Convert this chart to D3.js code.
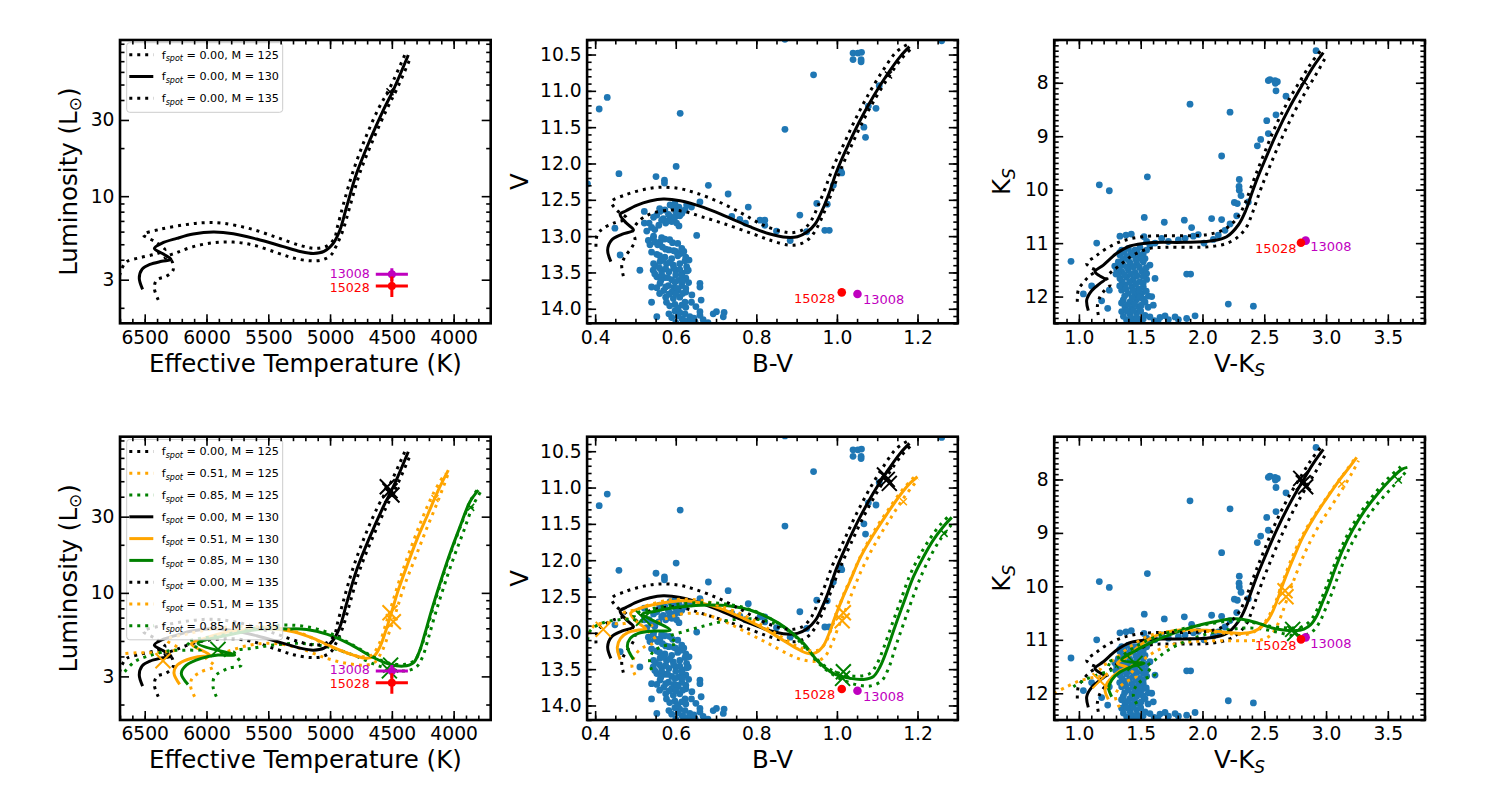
<!DOCTYPE html>
<html>
<head>
<meta charset="utf-8" />
<script src="https://cdn.jsdelivr.net/npm/d3@7"></script>
<style>
  body { margin: 0; background: #fff; }
  text { font-family: "DejaVu Sans", sans-serif; }
</style>
</head>
<body>
<svg id="fig" width="1500" height="800"></svg>
<script>
// ---- tick labels ----
var tempTicks = [6500, 6000, 5500, 5000, 4500, 4000];
var lumTicks = [3, 10, 30];
var bvTicks = [0.4, 0.6, 0.8, 1.0, 1.2];
var vTicks = [10.5, 11.0, 11.5, 12.0, 12.5, 13.0, 13.5, 14.0];
var vkTicks = [1.0, 1.5, 2.0, 2.5, 3.0, 3.5];
var kTicks = [8, 9, 10, 11, 12];

// ---- models: spot fraction x mass ----
var spotFracs = {F00: "0.00", F51: "0.51", F85: "0.85"};
var legendTop = ["F00M125", "F00M130", "F00M135"];
var legendBottom = ["F00M125", "F51M125", "F85M125", "F00M130", "F51M130", "F85M130", "F00M135", "F51M135", "F85M135"];

// ---- HR diagram tracks [Teff, L] ----
var hrF00M130 = [[6517,2.61],[6544,3.06],[6522,3.48],[6457,3.74],[6363,3.91],[6287,4.02],[6349,4.34],[6422,4.71],[6363,5.07],[6241,5.44],[6107,5.79],[5945,5.96],[5783,5.82],[5594,5.39],[5378,4.83],[5243,4.51],[5135,4.38],[5049,4.51],[4974,5.07],[4920,6.14],[4866,8.59],[4785,13.9],[4677,22.5],[4569,34.6],[4488,46.2],[4367,76.5]];
var hrF00M135 = [[6720,2.85],[6684,3.53],[6646,3.89],[6538,4.12],[6417,4.34],[6336,4.60],[6417,5.19],[6511,5.74],[6376,6.20],[6187,6.60],[6026,6.82],[5864,6.76],[5648,6.26],[5432,5.52],[5243,4.92],[5122,4.71],[5027,4.87],[4965,5.44],[4940,6.44],[4890,9.02],[4815,14.2],[4715,23.0],[4607,35.5],[4518,47.3],[4392,77.6]];
var hrF00M125 = [[6390,2.24],[6422,2.65],[6403,2.99],[6322,3.16],[6270,3.45],[6282,3.94],[6336,4.12],[6241,4.43],[6107,4.83],[5945,5.11],[5783,5.16],[5621,4.94],[5432,4.43],[5297,4.10],[5162,3.94],[5068,3.98],[4995,4.26],[4947,4.94],[4895,6.14],[4840,8.59],[4760,13.9],[4652,22.5],[4544,34.6],[4463,46.2],[4345,74.7]];
var hrF51M130 = [[6217,2.67],[6263,3.13],[6244,3.48],[6177,3.76],[6069,3.98],[5974,4.08],[6123,4.78],[6015,5.19],[5826,5.71],[5648,5.90],[5459,5.93],[5297,5.71],[5135,5.19],[4974,4.56],[4812,4.08],[4704,3.89],[4644,4.02],[4596,4.60],[4547,5.85],[4501,7.62],[4448,10.4],[4380,14.6],[4299,21.4],[4205,31.5],[4124,44.0],[4043,58.7]];
var hrF51M125 = [[6096,2.24],[6128,2.58],[6117,2.91],[6042,3.21],[5934,3.48],[6000,3.90],[5837,4.28],[5648,4.71],[5459,4.83],[5243,4.49],[5027,3.89],[4866,3.62],[4731,3.53],[4644,3.65],[4582,4.28],[4520,5.71],[4466,7.62],[4402,10.9],[4313,16.4],[4218,25.3],[4124,38.1],[4043,56.0]];
var hrF51M135 = [[6720,4.12],[6565,4.22],[6444,4.22],[6322,4.28],[6228,4.49],[6322,5.07],[6160,5.52],[5972,5.90],[5783,6.14],[5567,6.14],[5378,5.96],[5216,5.52],[5054,4.83],[4893,4.28],[4744,3.98],[4663,4.08],[4601,4.83],[4547,6.44],[4493,8.80],[4434,12.3],[4353,18.5],[4259,28.6],[4164,42.0],[4070,56.0]];
var hrF85M130 = [[6150,2.67],[6204,3.13],[6163,3.53],[6042,3.89],[5907,4.08],[5772,4.08],[6069,4.83],[5826,5.44],[5583,5.90],[5351,5.95],[5189,5.90],[5027,5.52],[4839,4.78],[4650,3.94],[4515,3.57],[4407,3.48],[4326,3.65],[4278,4.28],[4232,5.58],[4178,7.80],[4110,11.5],[4029,17.7],[3948,26.0],[3868,37.2],[3800,44.0]];
var hrF85M125 = [[5920,2.24],[5947,2.58],[5934,2.99],[5826,3.37],[5718,3.53],[5772,4.28],[5637,4.49],[5459,4.71],[5243,4.83],[5027,4.60],[4812,4.08],[4623,3.53],[4488,3.29],[4380,3.25],[4299,3.45],[4251,3.98],[4205,5.19],[4151,7.26],[4083,10.7],[4002,16.4],[3921,24.1],[3841,35.5],[3781,43.0]];
var hrF85M135 = [[6662,3.21],[6581,3.71],[6473,4.02],[6298,4.34],[6160,4.38],[6042,4.42],[6160,4.90],[5837,5.50],[5621,5.99],[5378,6.29],[5189,6.14],[5001,5.58],[4839,4.83],[4650,3.98],[4515,3.62],[4393,3.57],[4313,3.80],[4267,4.49],[4218,5.85],[4164,8.19],[4097,12.0],[4016,18.5],[3935,27.2],[3854,39.0],[3800,45.1]];

// ---- B-V, V tracks ----
var bvF00M130 = [[0.439,13.352],[0.431,13.191],[0.441,13.054],[0.466,12.976],[0.495,12.916],[0.478,12.824],[0.462,12.700],[0.477,12.650],[0.503,12.576],[0.536,12.517],[0.569,12.489],[0.611,12.512],[0.669,12.604],[0.726,12.732],[0.784,12.870],[0.834,12.971],[0.875,13.017],[0.902,13.008],[0.925,12.948],[0.946,12.833],[0.962,12.663],[0.979,12.434],[0.999,12.113],[1.024,11.791],[1.057,11.411],[1.090,11.080],[1.124,10.782],[1.157,10.529],[1.180,10.392]];
var bvF00M135 = [[0.402,13.145],[0.405,12.985],[0.420,12.893],[0.449,12.815],[0.478,12.755],[0.453,12.641],[0.441,12.526],[0.474,12.434],[0.515,12.365],[0.557,12.328],[0.606,12.342],[0.648,12.402],[0.706,12.526],[0.764,12.686],[0.813,12.838],[0.859,12.930],[0.888,12.953],[0.917,12.907],[0.937,12.778],[0.954,12.572],[0.971,12.342],[0.991,12.044],[1.018,11.723],[1.049,11.356],[1.082,11.011],[1.115,10.713],[1.148,10.461],[1.177,10.355]];
var bvF00M125 = [[0.470,13.549],[0.466,13.398],[0.474,13.283],[0.491,13.155],[0.499,13.044],[0.493,12.939],[0.507,12.801],[0.536,12.696],[0.590,12.641],[0.623,12.663],[0.664,12.732],[0.722,12.833],[0.788,12.962],[0.838,13.063],[0.880,13.122],[0.908,13.109],[0.932,13.031],[0.951,12.879],[0.968,12.677],[0.985,12.434],[1.006,12.126],[1.033,11.791],[1.064,11.424],[1.097,11.089],[1.130,10.796],[1.161,10.552],[1.183,10.428]];
var bvF51M130 = [[0.462,13.366],[0.455,13.200],[0.463,13.076],[0.482,12.994],[0.507,12.962],[0.526,12.948],[0.503,12.847],[0.488,12.732],[0.511,12.663],[0.553,12.604],[0.586,12.572],[0.619,12.558],[0.660,12.585],[0.710,12.663],[0.768,12.801],[0.818,12.939],[0.859,13.076],[0.900,13.214],[0.927,13.283],[0.948,13.274],[0.965,13.191],[0.980,13.017],[0.995,12.787],[1.012,12.549],[1.033,12.283],[1.057,11.975],[1.090,11.654],[1.124,11.365],[1.157,11.103],[1.181,10.943],[1.200,10.851]];
var bvF51M125 = [[0.499,13.581],[0.491,13.444],[0.501,13.292],[0.520,13.200],[0.543,13.145],[0.549,13.090],[0.532,12.953],[0.578,12.801],[0.627,12.732],[0.677,12.755],[0.726,12.856],[0.784,13.017],[0.834,13.159],[0.884,13.306],[0.917,13.375],[0.950,13.389],[0.971,13.320],[0.988,13.145],[1.004,12.916],[1.023,12.663],[1.042,12.388],[1.067,12.067],[1.100,11.723],[1.133,11.424],[1.165,11.149],[1.190,10.965],[1.202,10.887]];
var bvF51M135 = [[0.381,13.017],[0.400,12.893],[0.433,12.861],[0.462,12.879],[0.482,12.847],[0.470,12.732],[0.503,12.677],[0.544,12.595],[0.586,12.549],[0.627,12.539],[0.669,12.558],[0.710,12.631],[0.768,12.755],[0.818,12.907],[0.859,13.044],[0.900,13.182],[0.933,13.246],[0.954,13.237],[0.971,13.145],[0.985,12.962],[1.000,12.732],[1.016,12.480],[1.037,12.218],[1.062,11.906],[1.095,11.576],[1.128,11.300],[1.161,11.043],[1.186,10.887],[1.198,10.828]];
var bvF85M130 = [[0.495,13.366],[0.480,13.191],[0.487,13.076],[0.507,13.007],[0.544,12.975],[0.586,12.962],[0.518,12.741],[0.544,12.709],[0.586,12.663],[0.635,12.631],[0.685,12.617],[0.735,12.631],[0.784,12.686],[0.834,12.801],[0.875,12.939],[0.917,13.145],[0.950,13.375],[0.991,13.558],[1.033,13.627],[1.066,13.641],[1.090,13.604],[1.107,13.467],[1.124,13.237],[1.144,12.916],[1.165,12.595],[1.190,12.227],[1.215,11.952],[1.239,11.723],[1.264,11.539],[1.285,11.411]];
var bvF85M125 = [[0.540,13.512],[0.535,13.375],[0.544,13.260],[0.569,13.182],[0.602,13.145],[0.586,13.054],[0.619,12.985],[0.669,12.907],[0.726,12.833],[0.784,12.806],[0.834,12.852],[0.884,12.989],[0.925,13.237],[0.966,13.476],[1.008,13.632],[1.049,13.714],[1.082,13.732],[1.111,13.659],[1.129,13.476],[1.145,13.200],[1.165,12.879],[1.186,12.549],[1.211,12.191],[1.236,11.906],[1.261,11.677],[1.287,11.493]];
var bvF85M135 = [[0.381,13.099],[0.389,12.962],[0.416,12.870],[0.453,12.824],[0.491,12.815],[0.515,12.847],[0.495,12.755],[0.528,12.686],[0.578,12.631],[0.627,12.595],[0.677,12.585],[0.726,12.604],[0.776,12.663],[0.826,12.778],[0.867,12.916],[0.908,13.109],[0.942,13.320],[0.983,13.503],[1.024,13.581],[1.057,13.595],[1.082,13.558],[1.100,13.421],[1.117,13.191],[1.137,12.879],[1.158,12.558],[1.181,12.209],[1.206,11.929],[1.233,11.686],[1.258,11.502],[1.281,11.378]];

// ---- V-Ks, Ks tracks ----
var vkF00M130 = [[1.076,12.264],[1.063,12.064],[1.103,11.890],[1.171,11.753],[1.211,11.678],[1.165,11.609],[1.130,11.534],[1.198,11.410],[1.306,11.191],[1.413,11.054],[1.575,10.992],[1.845,10.985],[2.061,10.961],[2.196,10.880],[2.290,10.661],[2.352,10.381],[2.390,10.131],[2.439,9.819],[2.506,9.445],[2.600,8.946],[2.708,8.447],[2.816,8.011],[2.897,7.699],[2.978,7.437]];
var vkF00M135 = [[0.987,12.096],[0.995,11.877],[1.030,11.753],[1.084,11.615],[1.138,11.515],[1.090,11.453],[1.063,11.378],[1.130,11.254],[1.225,11.098],[1.359,10.954],[1.521,10.879],[1.710,10.861],[1.899,10.861],[2.034,10.842],[2.142,10.780],[2.228,10.661],[2.298,10.474],[2.344,10.256],[2.385,10.006],[2.433,9.707],[2.498,9.333],[2.587,8.834],[2.695,8.335],[2.803,7.917],[2.884,7.618],[2.973,7.356]];
var vkF00M125 = [[1.157,12.345],[1.149,12.189],[1.171,12.002],[1.211,11.877],[1.252,11.784],[1.225,11.640],[1.265,11.534],[1.333,11.410],[1.440,11.222],[1.575,11.098],[1.710,11.079],[1.899,11.079],[2.061,11.067],[2.196,11.004],[2.290,10.879],[2.358,10.692],[2.398,10.474],[2.433,10.243],[2.479,9.944],[2.546,9.557],[2.641,9.040],[2.749,8.522],[2.843,8.135],[2.924,7.824],[2.992,7.543]];
var vkF51M130 = [[1.238,12.114],[1.211,11.940],[1.230,11.802],[1.273,11.690],[1.333,11.578],[1.392,11.516],[1.311,11.441],[1.400,11.304],[1.508,11.079],[1.643,10.904],[1.818,10.817],[2.034,10.823],[2.196,10.861],[2.331,10.879],[2.412,10.848],[2.479,10.755],[2.533,10.618],[2.573,10.443],[2.606,10.256],[2.641,10.019],[2.687,9.744],[2.741,9.445],[2.811,9.083],[2.903,8.709],[3.005,8.354],[3.108,8.011],[3.188,7.774],[3.248,7.587]];
var vkF51M125 = [[1.328,12.264],[1.295,12.064],[1.322,11.908],[1.382,11.784],[1.468,11.678],[1.409,11.534],[1.495,11.410],[1.630,11.204],[1.778,11.079],[1.954,11.029],[2.169,11.017],[2.358,11.017],[2.493,10.992],[2.561,10.892],[2.606,10.724],[2.644,10.505],[2.682,10.256],[2.725,9.975],[2.779,9.645],[2.849,9.270],[2.941,8.871],[3.044,8.497],[3.141,8.148],[3.216,7.855],[3.262,7.649]];
var vkF51M135 = [[0.798,12.002],[0.901,11.877],[1.009,11.765],[1.117,11.703],[1.225,11.659],[1.171,11.534],[1.279,11.378],[1.413,11.129],[1.562,10.929],[1.710,10.848],[1.899,10.830],[2.088,10.848],[2.250,10.892],[2.371,10.892],[2.439,10.817],[2.498,10.692],[2.546,10.518],[2.587,10.318],[2.622,10.100],[2.660,9.850],[2.708,9.557],[2.776,9.196],[2.865,8.821],[2.973,8.447],[3.081,8.086],[3.167,7.824],[3.234,7.605]];
var vkF85M130 = [[1.265,12.064],[1.241,11.908],[1.265,11.753],[1.333,11.603],[1.440,11.491],[1.527,11.441],[1.346,11.378],[1.467,11.191],[1.602,11.035],[1.764,10.879],[1.926,10.755],[2.088,10.668],[2.223,10.611],[2.331,10.618],[2.439,10.680],[2.546,10.767],[2.654,10.817],[2.741,10.830],[2.822,10.798],[2.876,10.717],[2.924,10.555],[2.967,10.318],[3.016,10.038],[3.070,9.695],[3.134,9.320],[3.215,8.946],[3.307,8.603],[3.410,8.291],[3.518,8.011],[3.612,7.811],[3.658,7.774]];
var vkF85M125 = [[1.468,12.201],[1.440,12.033],[1.462,11.865],[1.521,11.740],[1.616,11.640],[1.548,11.516],[1.616,11.378],[1.724,11.191],[1.872,11.017],[2.034,10.892],[2.196,10.817],[2.331,10.780],[2.466,10.792],[2.600,10.855],[2.735,10.917],[2.843,10.898],[2.903,10.817],[2.951,10.655],[2.994,10.430],[3.046,10.131],[3.099,9.801],[3.161,9.426],[3.242,9.052],[3.334,8.709],[3.437,8.397],[3.545,8.123],[3.658,7.824]];
var vkF85M135 = [[0.955,11.877],[1.036,11.765],[1.144,11.659],[1.252,11.578],[1.311,11.516],[1.225,11.441],[1.333,11.316],[1.467,11.116],[1.602,10.962],[1.764,10.835],[1.926,10.752],[2.088,10.688],[2.223,10.648],[2.331,10.648],[2.439,10.690],[2.546,10.745],[2.654,10.775],[2.735,10.777],[2.811,10.752],[2.865,10.661],[2.913,10.505],[2.956,10.268],[3.005,9.988],[3.059,9.645],[3.124,9.270],[3.205,8.896],[3.296,8.560],[3.399,8.248],[3.507,7.967],[3.604,7.761]];

// ---- "x" markers [x, y, spot] ----
var hrCrossBig = [[4537,46.2,"F00"],[4515,43.6,"F00"],[4499,41.0,"F00"],[4515,7.51,"F51"],[4488,6.60,"F51"],[6352,3.76,"F51"],[4510,3.53,"F85"],[4520,3.25,"F85"],[5907,4.43,"F85"]];
var hrCrossSmall = [[4151,39.0,"F51"],[3862,34.3,"F85"]];
var hrCrossTop = [[4515,45.1,"F00"]];
var bvCrossBig = [[1.118,10.828,"F00"],[1.125,10.887,"F00"],[1.130,10.942,"F00"],[1.016,12.723,"F51"],[1.013,12.833,"F51"],[0.420,12.953,"F51"],[1.016,13.535,"F85"],[1.014,13.627,"F85"],[0.520,12.801,"F85"]];
var bvCrossSmall = [[1.165,11.195,"F51"],[1.266,11.631,"F85"]];
var bvCrossTop = [[1.128,10.782,"F00"]];
var vkCrossBig = [[2.795,7.980,"F00"],[2.816,8.061,"F00"],[2.835,8.135,"F00"],[2.668,10.081,"F51"],[2.676,10.193,"F51"],[1.171,11.765,"F51"],[2.730,10.805,"F85"],[2.746,10.880,"F85"],[1.454,11.441,"F85"]];
var vkCrossSmall = [[3.127,8.086,"F51"],[3.585,8.011,"F85"]];
var vkCrossTop = [[2.822,7.980,"F00"]];

// ---- the two target stars ----
var starNames = ["13008", "15028"];
var starTeff = [4500, 4500];
var starTeffErr = [130, 130];
var starLum = [3.24, 2.74];
var starLumErr = [0.30, 0.40];
var starBV = [1.051, 1.012];
var starV = [13.797, 13.774];
var starVK = [2.835, 2.797];
var starK = [10.954, 10.992];

// ---- cluster members ----
var clusterBV = [[0.871,10.29],[1.260,10.31],[1.040,10.48],[1.052,10.48],[1.061,10.47],[1.040,10.57],[1.060,10.57],[1.060,10.60],[0.942,10.78],[1.105,10.93],[0.430,11.09],[0.410,11.25],[0.611,11.31],[1.078,11.21],[1.097,11.24],[0.871,11.53],[1.067,11.50],[1.071,11.64],[1.009,12.09],[1.012,12.13],[0.601,12.04],[0.991,12.30],[0.950,12.55],[0.976,12.56],[0.908,12.71],[0.970,12.92],[0.981,12.92],[0.925,12.94],[0.884,13.06],[0.381,12.28],
  [0.459,12.14],[0.551,12.18],[0.572,12.23],[0.572,12.27],[0.681,12.30],[0.730,12.42],[0.780,12.60],[0.660,12.53],[0.522,12.66],[0.586,12.57],[0.598,12.55],[0.594,12.60],[0.608,12.60],[0.573,12.64],[0.582,12.70],[0.561,12.66],[0.553,12.71],[0.569,12.76],[0.586,12.73],[0.598,12.74],[0.615,12.69],[0.623,12.64],[0.639,12.60],[0.627,12.57],[0.739,12.73],[0.759,12.77],[0.773,12.82],[0.809,12.78],[0.821,12.78],[0.821,12.85],[0.850,12.93],[0.449,12.89],[0.522,12.82],[0.534,12.82],[0.540,12.88],[0.528,12.93],[0.548,12.91],[0.558,12.85],[0.575,12.82],[0.590,12.80],[0.602,12.82],[0.608,12.86],[0.652,12.99],
  [0.532,13.06],[0.544,13.03],[0.561,13.08],[0.573,13.04],[0.592,13.09],[0.567,13.15],[0.583,13.19],[0.600,13.21],[0.612,13.24],[0.620,13.21],[0.553,13.25],[0.573,13.29],[0.590,13.31],[0.561,13.35],[0.577,13.38],[0.594,13.40],[0.550,13.41],[0.623,13.34],[0.633,13.33],[0.544,13.47],[0.565,13.48],[0.583,13.49],[0.600,13.47],[0.616,13.51],[0.553,13.56],[0.573,13.57],[0.590,13.60],[0.606,13.61],[0.625,13.58],[0.561,13.65],[0.582,13.68],[0.595,13.71],[0.615,13.68],[0.553,13.71],[0.570,13.75],[0.590,13.77],[0.606,13.74],[0.625,13.77],[0.660,13.65],[0.660,13.70],[0.575,13.84],[0.594,13.86],[0.610,13.84],[0.623,13.91],[0.577,13.91],[0.598,13.94],[0.615,13.95],[0.639,13.91],[0.663,13.88],[0.598,14.03],[0.610,14.05],[0.623,14.07],[0.583,14.07],[0.635,14.11],[0.616,14.14],[0.633,14.16],[0.648,14.18],[0.660,14.04],[0.660,14.09],[0.693,14.07],[0.701,14.04],[0.720,14.05],[0.718,14.11],[0.540,13.91],[0.511,13.47],[0.462,13.26],[0.553,14.11],[0.606,14.10],[0.548,13.08],[0.536,13.12],[0.627,13.42],[0.631,13.47],[0.540,13.70],
  [0.545,13.00],[0.565,13.02],[0.585,13.05],[0.605,13.10],[0.555,13.12],[0.575,13.18],[0.595,13.20],[0.615,13.17],[0.540,13.22],[0.560,13.27],[0.605,13.27],[0.625,13.29],[0.568,13.33],[0.585,13.36],[0.610,13.38],[0.545,13.38],[0.560,13.44],[0.575,13.45],[0.595,13.44],[0.610,13.46],[0.628,13.48],[0.548,13.52],[0.565,13.53],[0.600,13.53],[0.615,13.55],[0.580,13.57],[0.563,13.61],[0.598,13.63],[0.617,13.62],[0.632,13.64],[0.575,13.70],[0.603,13.72],[0.625,13.72],[0.560,13.79],[0.583,13.80],[0.600,13.80],[0.617,13.79],[0.640,13.81],[0.585,13.96],[0.605,13.99],[0.625,13.98],[0.650,13.97],[0.590,14.12],[0.620,14.16],[0.645,14.13],[0.668,14.15],[0.680,14.19],[0.600,14.19],[0.560,12.62],[0.600,12.66],[0.545,12.74],[0.610,12.72],[0.565,12.78],[0.580,12.79]];

var clusterVK = [[2.919,7.40],[2.533,7.96],[2.546,7.94],[2.587,7.96],[2.606,7.98],[2.590,8.01],[2.595,8.15],[2.676,8.25],[1.899,8.40],[2.223,8.55],[2.595,8.60],[2.520,8.71],[2.533,8.95],[2.471,9.06],[2.444,9.18],[2.155,9.37],[1.165,9.91],[1.554,9.76],[2.298,9.81],[2.296,9.94],[2.298,10.01],[2.312,10.11],[2.371,10.23],[2.258,10.24],[2.282,10.26],
  [1.246,10.02],[1.529,10.52],[1.691,10.61],[1.853,10.57],[1.912,10.71],[2.074,10.54],[2.155,10.56],[1.332,10.87],[1.381,10.85],[1.424,10.83],[1.144,11.00],[0.936,11.34],[1.527,10.88],[1.548,10.97],[1.575,11.04],[1.616,11.00],[1.670,10.91],[1.724,10.97],[1.805,10.94],[1.859,10.91],[1.926,10.87],[1.966,10.84],[2.012,11.00],[2.088,10.93],[2.128,10.85],[2.182,10.76],[2.223,10.64],[2.277,10.49],[1.872,11.58],[1.904,11.58],[2.209,12.14],[2.412,12.18],[1.940,12.36],
  [1.346,11.13],[1.400,11.10],[1.454,11.13],[1.494,11.08],[1.548,11.13],[1.332,11.22],[1.386,11.25],[1.440,11.22],[1.494,11.25],[1.535,11.29],[1.319,11.35],[1.359,11.41],[1.413,11.37],[1.467,11.38],[1.521,11.35],[1.575,11.41],[1.306,11.50],[1.346,11.53],[1.400,11.50],[1.454,11.55],[1.508,11.52],[1.548,11.57],[1.332,11.66],[1.386,11.64],[1.440,11.68],[1.494,11.72],[1.548,11.68],[1.373,11.78],[1.427,11.82],[1.481,11.85],[1.521,11.82],[1.346,11.88],[1.400,11.94],[1.454,11.97],[1.508,11.94],[1.562,11.99],[1.359,12.06],[1.413,12.10],[1.467,12.06],[1.535,12.10],[1.373,12.19],[1.427,12.22],[1.481,12.19],[1.346,12.28],[1.413,12.33],[1.467,12.31],[1.535,12.35],[1.575,12.38],[1.386,12.44],[1.440,12.47],[1.494,12.45],[1.656,12.39],[1.697,12.36],[1.724,12.43],[1.778,12.38],[1.805,12.43],[1.872,12.41],[1.103,11.80],[1.036,11.95],[1.184,12.08],[1.233,12.22],[1.616,11.66],[1.589,12.00],[1.602,12.16],[1.246,11.88],
  [1.330,11.18],[1.365,11.17],[1.420,11.18],[1.470,11.17],[1.520,11.20],[1.355,11.30],[1.400,11.31],[1.460,11.30],[1.510,11.30],[1.330,11.43],[1.390,11.45],[1.440,11.44],[1.490,11.45],[1.545,11.46],[1.320,11.58],[1.370,11.59],[1.420,11.58],[1.470,11.61],[1.520,11.62],[1.350,11.72],[1.410,11.73],[1.460,11.76],[1.520,11.75],[1.330,11.80],[1.380,11.86],[1.440,11.89],[1.490,11.90],[1.545,11.90],[1.370,11.99],[1.430,12.02],[1.490,12.01],[1.520,12.05],[1.345,12.12],[1.395,12.15],[1.450,12.14],[1.505,12.16],[1.560,12.20],[1.390,12.27],[1.440,12.26],[1.500,12.27],[1.360,12.37],[1.420,12.39],[1.470,12.40],[1.520,12.42],[1.400,12.48],[1.460,12.50],[1.610,12.45],[1.640,12.48],[1.300,11.58],[1.290,11.43]];

// ---------------------------------------------------------------
var svg = d3.select("#fig");
var W = 370.7, H = 283.3;
var colX = [120, 587.1, 1054.2], rowY = [40, 436.7];
var spotColor = {F00: "#000000", F51: "#ffa500", F85: "#008000"};
var starColor = ["#bf00bf", "#ff0000"];
var TICK_FS = 18.7, LABEL_FS = 24.5;

var tracks = {
  hr: {F00M125: hrF00M125, F00M130: hrF00M130, F00M135: hrF00M135, F51M125: hrF51M125, F51M130: hrF51M130, F51M135: hrF51M135, F85M125: hrF85M125, F85M130: hrF85M130, F85M135: hrF85M135},
  bv: {F00M125: bvF00M125, F00M130: bvF00M130, F00M135: bvF00M135, F51M125: bvF51M125, F51M130: bvF51M130, F51M135: bvF51M135, F85M125: bvF85M125, F85M130: bvF85M130, F85M135: bvF85M135},
  vk: {F00M125: vkF00M125, F00M130: vkF00M130, F00M135: vkF00M135, F51M125: vkF51M125, F51M130: vkF51M130, F51M135: vkF51M135, F85M125: vkF85M125, F85M130: vkF85M130, F85M135: vkF85M135}
};

function steps(a, b, s) { // minor tick positions
  var out = [];
  for (var i = Math.round(a / s); i * s <= b + 1e-9; i++) out.push(+(i * s).toFixed(4));
  return out;
}

var spaces = {
  hr: {
    x: d3.scaleLinear().domain([6700, 3700]).range([0, W]),
    y: d3.scaleLog().domain([1.6, 95]).range([H, 0]),
    xMajor: tempTicks, xMinor: steps(3700, 6700, 100), xFmt: d3.format("d"),
    yMajor: lumTicks, yMinor: [2,4,5,6,7,8,9,20,40,50,60,70,80,90], yFmt: d3.format("d"),
    clusterData: null, yLabOff: -43.5,
    starX: starTeff, starY: starLum
  },
  bv: {
    x: d3.scaleLinear().domain([0.38, 1.30]).range([0, W]),
    y: d3.scaleLinear().domain([10.3, 14.2]).range([0, H]),
    xMajor: bvTicks, xMinor: steps(0.4, 1.3, 0.05), xFmt: d3.format(".1f"),
    yMajor: vTicks, yMinor: steps(10.3, 14.2, 0.1), yFmt: d3.format(".1f"),
    clusterData: clusterBV, yLabOff: -59,
    starX: starBV, starY: starV
  },
  vk: {
    x: d3.scaleLinear().domain([0.8, 3.8]).range([0, W]),
    y: d3.scaleLinear().domain([7.2, 12.5]).range([0, H]),
    xMajor: vkTicks, xMinor: steps(0.8, 3.8, 0.1), xFmt: d3.format(".1f"),
    yMajor: kTicks, yMinor: steps(7.2, 12.5, 0.1), yFmt: d3.format("d"),
    clusterData: clusterVK, yLabOff: -44,
    starX: starVK, starY: starK
  }
};

function drawAxes(g, sp) {
  var x = sp.x, y = sp.y;
  var sides = [
    {mk: function () { return d3.axisBottom(x); }, tr: "translate(0," + H + ")", maj: sp.xMajor, min: sp.xMinor, fmt: sp.xFmt, pad: 7},
    {mk: function () { return d3.axisTop(x); }, tr: null, maj: sp.xMajor, min: sp.xMinor, fmt: null, pad: 7},
    {mk: function () { return d3.axisLeft(y); }, tr: null, maj: sp.yMajor, min: sp.yMinor, fmt: sp.yFmt, pad: 5.5},
    {mk: function () { return d3.axisRight(y); }, tr: "translate(" + W + ",0)", maj: sp.yMajor, min: sp.yMinor, fmt: null, pad: 5.5}
  ];
  sides.forEach(function (sd) {
    var gm = g.append("g").attr("transform", sd.tr)
      .call(sd.mk().tickValues(sd.min).tickSize(-4.5).tickFormat(""));
    var gM = g.append("g").attr("transform", sd.tr)
      .call(sd.mk().tickValues(sd.maj).tickSize(-9).tickPadding(sd.pad).tickFormat(sd.fmt || function () { return ""; }));
    [gm, gM].forEach(function (a) {
      a.select(".domain").remove();
      a.selectAll("line").attr("stroke", "#000").attr("stroke-width", 1.6);
      a.selectAll("text").attr("font-size", TICK_FS).attr("font-family", "DejaVu Sans").attr("fill", "#000");
    });
  });
  g.append("rect").attr("width", W).attr("height", H)
    .attr("fill", "none").attr("stroke", "#000").attr("stroke-width", 2.6);
}

function drawTracks(plot, sp, set, keys) {
  var line = d3.line().x(function (d) { return sp.x(d[0]); }).y(function (d) { return sp.y(d[1]); })
    .curve(d3.curveCatmullRom.alpha(0.5));
  keys.forEach(function (k) {
    var spot = k.slice(0, 3), mass = +k.slice(4);
    plot.append("path").datum(set[k]).attr("d", line)
      .attr("fill", "none").attr("stroke", spotColor[spot]).attr("stroke-width", 3)
      .attr("stroke-linejoin", "round")
      .attr("stroke-dasharray", mass === 130 ? null : "3,4.95");
  });
}

function drawCrosses(plot, sp, data, half, sw) {
  plot.selectAll(null).data(data).join("path")
    .attr("d", function (d) {
      var cx = sp.x(d[0]), cy = sp.y(d[1]);
      return "M" + (cx - half) + "," + (cy - half) + "L" + (cx + half) + "," + (cy + half) +
             "M" + (cx - half) + "," + (cy + half) + "L" + (cx + half) + "," + (cy - half);
    })
    .attr("stroke", function (d) { return spotColor[d[2]]; })
    .attr("stroke-width", sw).attr("fill", "none");
}

function drawStars(g, key, sp) {
  var x = sp.x, y = sp.y;
  starNames.forEach(function (name, i) {
    var cx = x(sp.starX[i]), cy = y(sp.starY[i]), col = starColor[i];
    if (key === "hr") {
      g.append("line").attr("x1", x(starTeff[i] + starTeffErr[i])).attr("x2", x(starTeff[i] - starTeffErr[i]))
        .attr("y1", cy).attr("y2", cy).attr("stroke", col).attr("stroke-width", 3);
      g.append("line").attr("x1", cx).attr("x2", cx)
        .attr("y1", y(starLum[i] + starLumErr[i])).attr("y2", y(starLum[i] - starLumErr[i]))
        .attr("stroke", col).attr("stroke-width", 3);
      g.append("circle").attr("cx", cx).attr("cy", cy).attr("r", 4).attr("fill", col);
      g.append("text").attr("x", cx - 22).attr("y", cy + 4.5 + (i === 0 ? -1.2 : 1.2)).attr("text-anchor", "end")
        .attr("font-size", 12.6).attr("fill", col).text(name);
    } else {
      g.append("circle").attr("cx", cx).attr("cy", cy).attr("r", 4.3).attr("fill", col);
      var left = name === "15028";
      var dx = key === "bv" ? (left ? -6.5 : 5.5) : (left ? -4.5 : 4.5);
      g.append("text").attr("x", cx + dx).attr("y", cy + 10.2)
        .attr("text-anchor", left ? "end" : "start")
        .attr("font-size", 13).attr("fill", col).text(name);
    }
  });
}

function drawLegend(g, keys) {
  var rowH = 21.8, w = 156, h = 12 + (keys.length - 1) * rowH + 14;
  var lg = g.append("g").attr("transform", "translate(6.7,2.7)");
  lg.append("rect").attr("width", w).attr("height", h).attr("rx", 3)
    .attr("fill", "#fff").attr("fill-opacity", 0.8).attr("stroke", "#cccccc").attr("stroke-width", 1);
  keys.forEach(function (k, i) {
    var cy = 12 + i * rowH, spot = k.slice(0, 3), mass = k.slice(4);
    lg.append("line").attr("x1", 2.6).attr("x2", 26.6).attr("y1", cy).attr("y2", cy)
      .attr("stroke", spotColor[spot]).attr("stroke-width", 3)
      .attr("stroke-dasharray", mass === "130" ? null : "3,4.95");
    var t = lg.append("text").attr("x", 35).attr("y", cy + 4).attr("font-size", 11.2).attr("fill", "#000");
    t.append("tspan").text("f");
    t.append("tspan").attr("font-size", 8).attr("font-style", "italic").attr("dy", 2.6).text("spot");
    t.append("tspan").attr("dy", -2.6).text(" = " + spotFracs[spot] + ", M = " + mass);
  });
}

function axisLabels(g, key) {
  var xl = g.append("text").attr("x", W / 2).attr("y", H + 48.3).attr("text-anchor", "middle")
    .attr("font-size", LABEL_FS).attr("fill", "#000");
  var yl = g.append("text").attr("transform", "translate(" + spaces[key].yLabOff + "," + (H / 2) + ") rotate(-90)")
    .attr("text-anchor", "middle").attr("font-size", LABEL_FS).attr("fill", "#000");
  if (key === "hr") {
    xl.text("Effective Temperature (K)");
    yl.append("tspan").text("Luminosity (L");
    yl.append("tspan").attr("font-size", 17).attr("dy", 4.5).text("\u2299");
    yl.append("tspan").attr("dy", -4.5).text(")");
  } else if (key === "bv") {
    xl.text("B-V");
    yl.text("V");
  } else {
    xl.append("tspan").text("V-K");
    xl.append("tspan").attr("font-size", 17).attr("font-style", "italic").attr("dy", 4.5).text("S");
    yl.append("tspan").text("K");
    yl.append("tspan").attr("font-size", 17).attr("font-style", "italic").attr("dy", 4.5).text("S");
  }
}

var keysOrder = ["hr", "bv", "vk"];
[0, 1].forEach(function (row) {
  keysOrder.forEach(function (key, col) {
    var sp = spaces[key];
    var id = "clip" + row + col;
    var g = svg.append("g").attr("transform", "translate(" + colX[col] + "," + rowY[row] + ")");
    g.append("clipPath").attr("id", id).append("rect").attr("width", W).attr("height", H);
    var plot = g.append("g").attr("clip-path", "url(#" + id + ")");

    if (sp.clusterData) {
      plot.selectAll("circle.member").data(sp.clusterData).join("circle").attr("class", "member")
        .attr("cx", function (d) { return sp.x(d[0]); }).attr("cy", function (d) { return sp.y(d[1]); })
        .attr("r", 3.4).attr("fill", "#1f77b4");
    }
    var keys = row === 0 ? legendTop : legendBottom;
    drawTracks(plot, sp, tracks[key], keys);
    if (row === 0) {
      drawCrosses(plot, sp, key === "hr" ? hrCrossTop : key === "bv" ? bvCrossTop : vkCrossTop, 3.5, 1.5);
    } else {
      drawCrosses(plot, sp, key === "hr" ? hrCrossBig : key === "bv" ? bvCrossBig : vkCrossBig, 7.5, 2);
      drawCrosses(plot, sp, key === "hr" ? hrCrossSmall : key === "bv" ? bvCrossSmall : vkCrossSmall, 3.5, 1.5);
    }
    drawStars(plot, key, sp);
    if (key === "hr") drawLegend(g, keys);
    drawAxes(g, sp);
    axisLabels(g, key);
  });
});
</script>
</body>
</html>
